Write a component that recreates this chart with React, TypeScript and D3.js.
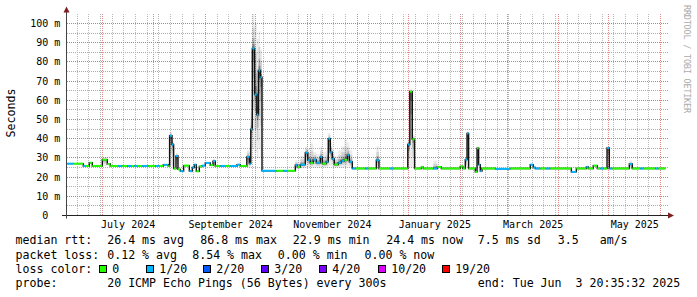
import React from "react";
import * as d3 from "d3";

const END_TIME = "2025-06-03T20:35:32Z";
const SPAN_DAYS = 360;

const yTicks = [0, 10, 20, 30, 40, 50, 60, 70, 80, 90, 100];
const yMinorTicks = [5, 15, 25, 35, 45, 55, 65, 75, 85, 95];
const xLabelMonths = ["2024-07", "2024-09", "2024-11", "2025-01", "2025-03", "2025-05"];

const stepDates = [
  "2024-06-10T00", "2024-06-13T14", "2024-06-19T14", "2024-06-20T19", "2024-06-23T05", "2024-06-25T00",
  "2024-07-01T00", "2024-07-04T00", "2024-07-05T19", "2024-07-10T14", "2024-07-13T00", "2024-07-16T00",
  "2024-07-18T10", "2024-07-20T05", "2024-07-22T00", "2024-07-25T00", "2024-07-28T14", "2024-08-01T19",
  "2024-08-04T05", "2024-08-06T14", "2024-08-09T14", "2024-08-10T09", "2024-08-11T20", "2024-08-12T19",
  "2024-08-14T05", "2024-08-15T10", "2024-08-16T19", "2024-08-18T19", "2024-08-22T05", "2024-08-24T00",
  "2024-08-25T05", "2024-08-26T10", "2024-08-28T05", "2024-08-29T20", "2024-08-31T19", "2024-09-03T19",
  "2024-09-05T10", "2024-09-06T19", "2024-09-09T19", "2024-09-12T19", "2024-09-15T19", "2024-09-19T20",
  "2024-09-21T19", "2024-09-25T17", "2024-09-27T05", "2024-09-28T02", "2024-09-29T00", "2024-09-30T09",
  "2024-10-01T17", "2024-10-02T17", "2024-10-03T19", "2024-10-04T20", "2024-10-13T10", "2024-10-17T14",
  "2024-10-20T00", "2024-10-24T19", "2024-10-26T00", "2024-10-27T19", "2024-10-30T19", "2024-11-01T07",
  "2024-11-02T19", "2024-11-04T14", "2024-11-06T10", "2024-11-08T19", "2024-11-10T00", "2024-11-12T10",
  "2024-11-13T14", "2024-11-14T19", "2024-11-16T00", "2024-11-17T05", "2024-11-19T14", "2024-11-21T10",
  "2024-11-23T05", "2024-11-25T00", "2024-11-26T05", "2024-11-28T00", "2024-11-29T19", "2024-12-05T19",
  "2024-12-07T14", "2024-12-12T10", "2024-12-14T00", "2024-12-20T19", "2024-12-22T14", "2024-12-31T07",
  "2025-01-01T12", "2025-01-03T00", "2025-01-04T09", "2025-01-08T10", "2025-01-09T14", "2025-01-15T14",
  "2025-01-18T00", "2025-01-20T10", "2025-01-31T19", "2025-02-02T07", "2025-02-03T19", "2025-02-04T20",
  "2025-02-05T19", "2025-02-09T19", "2025-02-10T20", "2025-02-11T19", "2025-02-12T19", "2025-02-13T20",
  "2025-02-21T19", "2025-03-02T19", "2025-03-14T19", "2025-03-16T14", "2025-03-17T19", "2025-03-20T19",
  "2025-03-24T10", "2025-03-26T19", "2025-04-08T10", "2025-04-11T10", "2025-04-17T10", "2025-04-18T14",
  "2025-04-21T14", "2025-04-24T00", "2025-04-25T19", "2025-04-27T14", "2025-04-29T20", "2025-05-01T05",
  "2025-05-03T00", "2025-05-13T05", "2025-05-15T00", "2025-05-19T19", "2025-05-21T14", "2025-05-28T19",
  "2025-05-30T14",
];
const medianMs = [
  27.0, 27.0, 25.8, 25.8, 27.5, 25.8,
  29.0, 26.8, 25.8, 25.8, 25.8, 25.8,
  25.8, 25.8, 25.8, 25.8, 25.8, 25.8,
  25.8, 26.4, 25.8, 41.5, 37.0, 24.5,
  31.0, 24.0, 23.1, 26.0, 23.1, 25.0,
  26.5, 23.0, 25.5, 26.0, 27.4, 26.2,
  28.3, 25.8, 25.8, 25.8, 25.8, 26.5,
  25.8, 30.5, 27.0, 45.0, 87.0, 63.0,
  52.5, 75.5, 72.0, 23.3, 23.3, 23.3,
  23.3, 26.2, 25.3, 26.5, 32.7, 28.8,
  27.4, 29.1, 27.5, 30.5, 27.0, 28.0,
  40.0, 33.0, 29.5, 26.5, 27.5, 28.5,
  29.0, 31.4, 28.0, 24.5, 24.5, 24.5,
  24.5, 28.8, 24.5, 24.5, 24.5, 37.0,
  64.5, 39.7, 24.5, 25.2, 24.5, 24.5,
  25.3, 24.5, 25.6, 24.5, 29.1, 42.7,
  24.5, 22.7, 35.0, 26.5, 23.1, 24.5,
  24.3, 24.5, 26.5, 25.0, 24.5, 24.5,
  24.5, 24.5, 22.7, 24.5, 25.3, 24.5,
  26.0, 24.5, 24.5, 24.5, 35.2, 24.5,
  24.5, 26.8, 24.5, 24.5, 24.5, 24.5,
  24.5,
];
const lossClass = [
  1, 0, 1, 0, 0, 0,
  0, 0, 0, 1, 0, 1,
  0, 1, 0, 1, 0, 1,
  0, 1, 0, 1, 1, 0,
  1, 0, 1, 0, 1, 1,
  1, 0, 0, 1, 1, 0,
  1, 0, 1, 0, 1, 1,
  0, 1, 1, 1, 1, 1,
  1, 1, 1, 1, 0, 1,
  0, 1, 0, 1, 1, 1,
  0, 1, 1, 1, 0, 1,
  1, 1, 1, 0, 1, 1,
  0, 1, 1, 1, 0, 1,
  0, 1, 0, 1, 0, 1,
  0, 0, 0, 0, 0, 1,
  0, 0, 0, 0, 1, 1,
  0, 0, 0, 1, 1, 0,
  1, 0, 1, 1, 1, 0,
  1, 0, 1, 0, 1, 0,
  0, 0, 1, 0, 1, 1,
  0, 1, 0, 1, 0, 1,
  0,
];

const smokeDates = [
  "2024-07-01T00", "2024-08-10T09", "2024-08-11T20", "2024-08-14T05", "2024-09-05T10",
  "2024-09-25T17", "2024-09-27T05", "2024-09-28T02", "2024-09-29T00", "2024-09-30T09",
  "2024-10-01T17", "2024-10-02T17", "2024-10-03T19", "2024-10-24T19", "2024-10-26T00",
  "2024-10-27T19", "2024-10-30T19", "2024-11-01T07", "2024-11-02T19", "2024-11-04T14",
  "2024-11-06T10", "2024-11-08T19", "2024-11-10T00", "2024-11-12T10", "2024-11-13T14",
  "2024-11-14T19", "2024-11-16T00", "2024-11-17T05", "2024-11-19T14", "2024-11-21T10",
  "2024-11-23T05", "2024-11-25T00", "2024-11-26T05", "2024-12-12T10", "2024-12-31T07",
  "2025-01-01T12", "2025-01-03T00", "2025-01-15T14", "2025-02-03T19", "2025-02-04T20",
  "2025-02-10T20", "2025-04-29T20", "2025-05-13T05",
];
const smokeLow = [
  25.8, 26, 26, 24, 25.5,
  25, 25, 28, 35, 33,
  30, 35, 30, 24, 24,
  24.5, 25, 25, 25, 25,
  25, 25, 25, 25, 26,
  26, 25, 25, 25, 25,
  25, 25.5, 25, 24, 25,
  25, 25, 24, 24.5, 25,
  24, 24, 24,
];
const smokeHigh = [
  30.5, 43.5, 39, 32.5, 29.5,
  34, 37, 60, 105, 100,
  92, 96, 86, 29, 28,
  31, 36, 35, 37.5, 33,
  32, 36, 33, 34, 43,
  38, 33, 31, 34, 36,
  40, 38, 34, 36, 40,
  66, 42, 28.5, 31, 44,
  36, 36, 28.5,
];

const lossLabels = ["0", "1/20", "2/20", "3/20", "4/20", "10/20", "19/20"];
const lossColors = ["#26ff00", "#00b8ff", "#0059ff", "#5e00ff", "#7e00ff", "#dd00ff", "#ff0000"];

const rttTitle = "median rtt:";
const rttStats = ["26.4 ms avg", "86.8 ms max", "22.9 ms min", "24.4 ms now", "7.5 ms sd", "3.5   am/s"];
const lossTitle = "packet loss:";
const lossStats = ["0.12 % avg", "8.54 % max", "0.00 % min", "0.00 % now"];
const colorTitle = "loss color:";
const probeTitle = "probe:";
const probeText = "20 ICMP Echo Pings (56 Bytes) every 300s";
const endText = "end: Tue Jun  3 20:35:32 2025";
const yTitle = "Seconds";
const watermark = "RRDTOOL / TOBI OETIKER";

const rttX = [107.2, 200.2, 292.8, 386.2, 477.8, 557.8];
const lossXs = [107.2, 192.2, 277.8, 364.5];
const boxX = [99.5, 146.5, 203.5, 261.5, 319.5, 378.5, 442.5];
const MONO = "'DejaVu Sans Mono', monospace";

export default function App() {
  const end = new Date(END_TIME);
  const start = new Date(end.getTime() - SPAN_DAYS * 864e5);
  const x = d3.scaleUtc().domain([start, end]).range([65.4, 665.4]);
  const yScale = d3.scaleLinear().domain([0, 104.9]).range([215.5, 14.1]).clamp(true);
  const parse = (s: string) => new Date(s + ":00:00Z");
  const dates = stepDates.map(parse);
  const plotLeft = 67;
  const plotRight = 668;
  const gridTop = Math.round(yScale(104.9));
  const gridBottom = 215;

  const sundays = d3.utcSunday.range(start, end).filter((d) => x(d) > plotLeft + 1);
  const months = d3.utcMonth.range(start, end).filter((d) => x(d) > plotLeft + 1);

  const stepPts: [number, number][] = dates.map((d, i) => [x(d), yScale(medianMs[i])]);
  stepPts.push([x(end), yScale(medianMs[medianMs.length - 1])]);
  const stepLine = d3.line().curve(d3.curveStepAfter)(stepPts) || "";

  const segEnd = (i: number) => (i + 1 < dates.length ? dates[i + 1] : end);

  const smokeRects: React.ReactNode[] = [];
  smokeDates.forEach((s, k) => {
    const i = stepDates.indexOf(s);
    if (i < 0) return;
    const x1 = x(dates[i]);
    const x2 = x(segEnd(i));
    const m = medianMs[i];
    const lo = smokeLow[k];
    const hi = smokeHigh[k];
    const layers = [
      [1.0, 0.08],
      [0.6, 0.11],
      [0.3, 0.18],
      [0.12, 0.28],
    ];
    layers.forEach(([f, op], j) => {
      const a = m - (m - lo) * f;
      const b = m + (hi - m) * f;
      smokeRects.push(
        <rect key={`s${k}-${j}`} x={x1} width={Math.max(0.5, x2 - x1)} y={yScale(b)} height={Math.max(0, yScale(a) - yScale(b))} fill="#000" opacity={op} />
      );
    });
  });

  const hLines = (vals: number[], color: string, pfx: string) =>
    vals.map((v) => {
      const yy = Math.floor(yScale(v)) + 0.5;
      return <line key={pfx + v} x1={plotLeft} x2={plotRight} y1={yy} y2={yy} stroke={color} strokeWidth={1} strokeDasharray="1 1" />;
    });
  const vLines = (ds: Date[], color: string, pfx: string) =>
    ds.map((d) => {
      const xx = Math.floor(x(d)) + 0.5;
      return <line key={pfx + +d} x1={xx} x2={xx} y1={gridTop} y2={gridBottom} stroke={color} strokeWidth={1} strokeDasharray="1 1" />;
    });

  const pre = { whiteSpace: "pre" as const };

  return (
    <svg
      width={697}
      height={297}
      style={{ position: "absolute", left: 0, top: 0, background: "#fff" }}
      fontFamily={MONO}
    >
      <rect x={0} y={0} width={697} height={297} fill="#fff" />
      {vLines(sundays, "#b8b8b8", "vm")}
      {vLines(months, "#e08888", "vM")}
      {hLines(yMinorTicks, "#acacac", "hm")}
      {hLines(yTicks.filter((v) => v > 0), "#d87474", "hM")}

      <g>{smokeRects}</g>
      <path d={stepLine} fill="none" stroke="#111" strokeWidth={1.4} />
      <g strokeWidth={2}>
        {dates.map((d, i) => (
          <line
            key={`m${i}`}
            x1={x(d)}
            x2={x(segEnd(i))}
            y1={yScale(medianMs[i])}
            y2={yScale(medianMs[i])}
            stroke={lossColors[lossClass[i]]}
          />
        ))}
      </g>

      <line x1={62} x2={670} y1={215.5} y2={215.5} stroke="#222" strokeWidth={1} />
      <line x1={66.5} x2={66.5} y1={11} y2={218.5} stroke="#444" strokeWidth={1} />
      <path d="M63.5,12.5 L66.5,6.5 L69.5,12.5 Z" fill="#7f1f1f" />
      <path d="M668,212.5 L674,215.5 L668,218.5 Z" fill="#7f1f1f" />

      <g fontSize={10} fill="#000" textAnchor="end">
        {yTicks.map((v) => (
          <text key={`yl${v}`} x={v === 0 ? 48.3 : 60.3} y={yScale(v) + 3.4}>
            {v === 0 ? "0" : `${v} m`}
          </text>
        ))}
      </g>
      <g fontSize={10} fill="#000" textAnchor="middle">
        {xLabelMonths.map((m) => {
          const d0 = new Date(m + "-01T00:00:00Z");
          const d1 = d3.utcMonth.offset(d0, 1);
          const mid = new Date((d0.getTime() + d1.getTime()) / 2);
          return (
            <text key={m} x={x(mid)} y={228}>
              {d3.utcFormat("%B %Y")(d0)}
            </text>
          );
        })}
      </g>

      <text x={15} y={113} fontSize={11.6} textAnchor="middle" transform="rotate(-90,15,113)" fill="#000">
        {yTitle}
      </text>
      <text
        x={684}
        y={5}
        fontSize={8.5}
        fill="#aaaaaa"
        transform="rotate(90,684,5)"
        textLength={108}
        lengthAdjust="spacing"
      >
        {watermark}
      </text>

      <g fontSize={11.6} fill="#000">
        <text x={15.5} y={244.3}>{rttTitle}</text>
        {rttStats.map((s, i) => (
          <text key={`r${i}`} x={rttX[i]} y={244.3} xmlSpace="preserve" style={pre}>{s}</text>
        ))}
        <text x={15.5} y={258.6}>{lossTitle}</text>
        {lossStats.map((s, i) => (
          <text key={`l${i}`} x={lossXs[i]} y={258.6}>{s}</text>
        ))}
        <text x={15.5} y={272.8}>{colorTitle}</text>
        {lossLabels.map((s, i) => (
          <g key={`c${i}`}>
            <rect x={boxX[i]} y={265.5} width={7} height={7} fill={lossColors[i]} stroke="#000" strokeWidth={1} />
            <text x={boxX[i] + 12.7} y={272.8}>{s}</text>
          </g>
        ))}
        <text x={15.5} y={287}>{probeTitle}</text>
        <text x={107.2} y={287}>{probeText}</text>
        <text x={477.8} y={287} xmlSpace="preserve" style={pre}>{endText}</text>
      </g>
    </svg>
  );
}
